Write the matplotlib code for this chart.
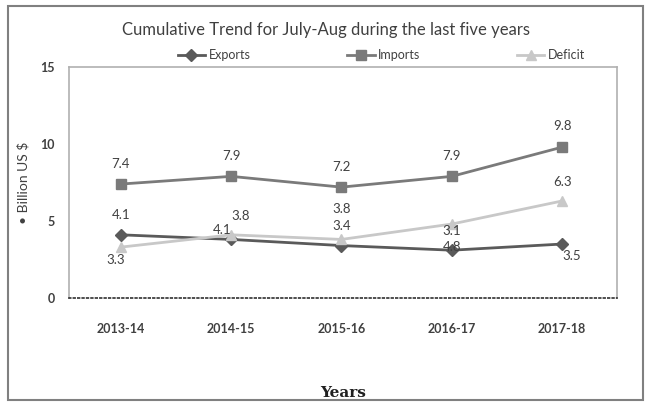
import matplotlib.pyplot as plt
from matplotlib.patches import Rectangle

# ------------------------
# Data
# ------------------------
years = ["2013-14", "2014-15", "2015-16", "2016-17", "2017-18"]
exports = [4.1, 3.8, 3.4, 3.1, 3.5]
imports = [7.4, 7.9, 7.2, 7.9, 9.8]
deficit = [3.3, 4.1, 3.8, 4.8, 6.3]

# label offsets in pixels (dx, dy) - picked to look like the scanned original
exp_off = [(0, 20), (9, 23), (0, 20), (0, 19), (10, -12)]
imp_off = [(0, 20), (0, 20), (0, 20), (0, 20), (0, 21)]
def_off = [(-5, -13), (-9, 5), (0, 30), (0, -23), (0, 19)]

text_col = "#404040"
plt.rcParams['font.family'] = ['Lato', 'DejaVu Sans']

fig = plt.figure(figsize=(6.45, 4.12), dpi=100)
ax = fig.add_axes([0.107, 0.277, 0.850, 0.560])

x = range(len(years))
series = [
    ("Exports", exports, exp_off, "#5a5a5a", "D", 6),
    ("Imports", imports, imp_off, "#7a7a7a", "s", 7),
    ("Deficit", deficit, def_off, "#c8c8c8", "^", 7),
]
for name, vals, offs, col, mk, ms in series:
    ax.plot(x, vals, color=col, marker=mk, markersize=ms, linewidth=2, label=name)
    for xi, v, (dx, dy) in zip(x, vals, offs):
        ax.annotate(f"{v}", (xi, v), xytext=(dx, dy), textcoords="offset pixels",
                    ha="center", va="center", fontsize=9.5, color=text_col)

ax.set_xlim(-0.47, 4.5)
ax.set_ylim(0, 15)
ax.set_yticks([0, 5, 10, 15])
ax.set_xticks(list(x))
ax.set_xticklabels(years, fontsize=9, fontweight="bold", color=text_col)
ax.tick_params(axis="y", labelsize=9, labelcolor=text_col, length=0, pad=10)
ax.tick_params(axis="x", length=0, pad=18)
for lab in ax.get_yticklabels():
    lab.set_fontweight("bold")

for s in ["top", "right", "left"]:
    ax.spines[s].set_color("#b0b0b0")
    ax.spines[s].set_linewidth(1.2)
ax.spines["bottom"].set_color("#303030")
ax.spines["bottom"].set_linestyle(":")
ax.spines["bottom"].set_linewidth(1.2)

ax.set_ylabel("• Billion US $", fontsize=10, color=text_col, labelpad=8)
ax.set_xlabel("Years", fontsize=11, fontweight="bold", color="#202020",
              family="DejaVu Serif", labelpad=37)

fig.text(0.505, 0.927, "Cumulative Trend for July-Aug during the last five years",
         ha="center", va="center", fontsize=12, color=text_col)
ax.legend(loc="lower center", bbox_to_anchor=(0.57, 1.0), ncol=3, frameon=False,
          fontsize=9, labelcolor=text_col, columnspacing=7.7, handlelength=2.2,
          handletextpad=0.3, borderaxespad=0.1)

# outer border of the chart
fig.add_artist(Rectangle((0.012, 0.03), 0.985, 0.955, transform=fig.transFigure,
                         fill=False, edgecolor="#808080", linewidth=1.5))

fig.savefig("out.png", dpi=100)
